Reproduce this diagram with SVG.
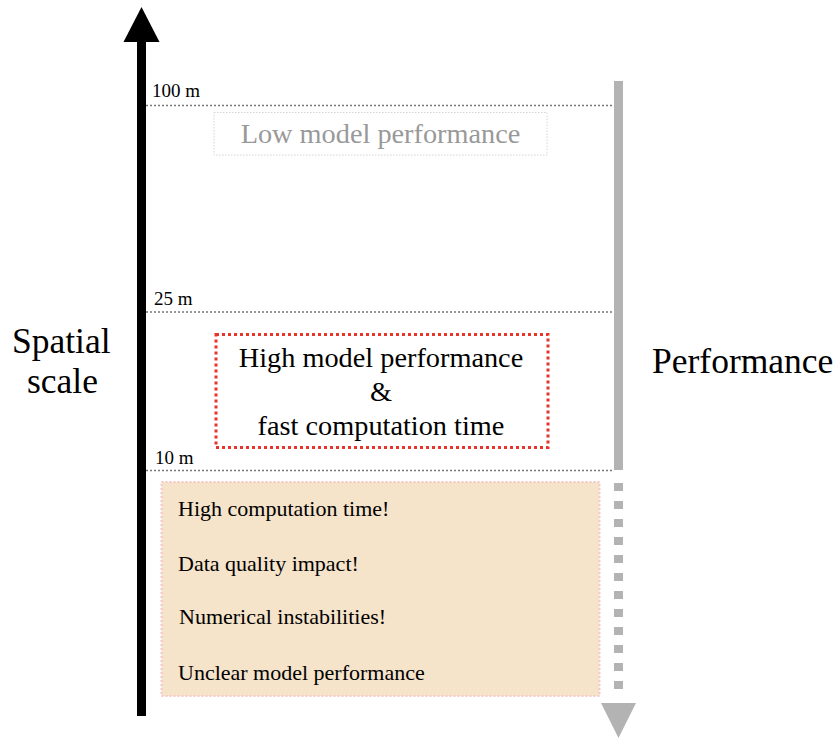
<svg xmlns="http://www.w3.org/2000/svg" width="837" height="740" viewBox="0 0 837 740">
<style>
  text { font-family: "Liberation Serif", "Times New Roman", serif; fill: #000; }
  .scale { font-size: 19px; }
  .big { font-size: 35.5px; }
  .mid { font-size: 28.3px; }
  .item { font-size: 22px; }
  .grid { stroke: #777; stroke-width: 1.3; stroke-dasharray: 2 2; fill: none; }
</style>
<rect width="837" height="740" fill="#fff"/>
<g id="connectors">
  <g id="spatial-axis">
    <rect x="137" y="40" width="9" height="676" fill="#000"/>
    <polygon points="141.5,7 123.5,42 159.5,42" fill="#000"/>
  </g>
  <g id="performance-axis">
    <rect x="614" y="81" width="9" height="389" fill="#b3b3b3"/>
    <line x1="618.5" y1="483" x2="618.5" y2="691" stroke="#b3b3b3" stroke-width="9" stroke-dasharray="8 10"/>
    <polygon points="618.5,738 601,703 636,703" fill="#b3b3b3"/>
  </g>
  <line class="grid" x1="146" y1="105.5" x2="614" y2="105.5"/>
  <line class="grid" x1="146" y1="312" x2="614" y2="312"/>
  <line class="grid" x1="146" y1="470.5" x2="614" y2="470.5"/>
</g>
<g id="labels">
  <text class="scale" x="152" y="97">100 m</text>
  <text class="scale" x="154" y="305">25 m</text>
  <text class="scale" x="155" y="464">10 m</text>
  <text class="big" x="12" y="353">Spatial</text>
  <text class="big" x="27" y="393">scale</text>
  <text class="big" x="652" y="373">Performance</text>
</g>
<g id="low-performance">
  <rect x="214" y="112.5" width="333" height="42.5" fill="#fff" stroke="#d4d4d4" stroke-width="1" stroke-dasharray="1.5 1.5"/>
  <text class="mid" x="380.5" y="143" text-anchor="middle" style="fill:#999">Low model performance</text>
</g>
<g id="high-performance">
  <rect x="216" y="334.5" width="332" height="113" fill="#fff" stroke="#e8352c" stroke-width="3" stroke-dasharray="3 3"/>
  <text class="mid" x="381" y="367" text-anchor="middle">High model performance</text>
  <text class="mid" x="381" y="401" text-anchor="middle">&amp;</text>
  <text class="mid" x="381" y="435" text-anchor="middle">fast computation time</text>
</g>
<g id="issues">
  <rect x="161.5" y="482" width="438" height="214" fill="#f5e3ca" stroke="#f5c8c8" stroke-width="2" stroke-dasharray="2 2"/>
  <text class="item" x="178" y="516">High computation time!</text>
  <text class="item" x="178" y="571">Data quality impact!</text>
  <text class="item" x="179" y="624">Numerical instabilities!</text>
  <text class="item" x="178" y="680">Unclear model performance</text>
</g>
</svg>
